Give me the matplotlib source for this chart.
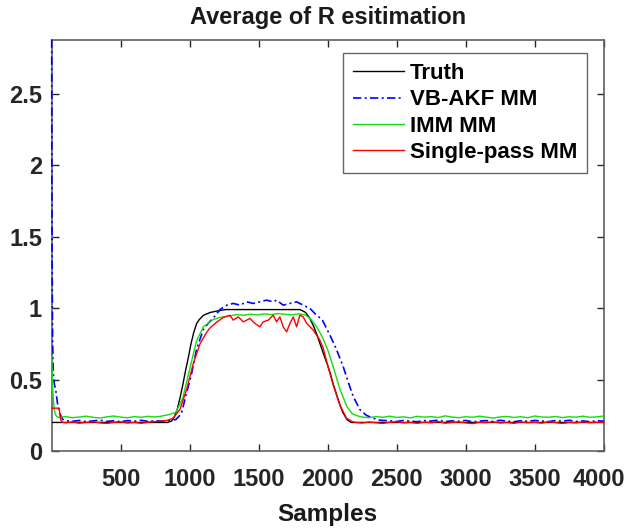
import matplotlib
matplotlib.use('Agg')
from matplotlib import pyplot as plt
from matplotlib.transforms import ScaledTranslation

plt.rcParams['font.family'] = ['Liberation Sans', 'DejaVu Sans']
plt.rcParams['font.weight'] = 'bold'

# ---- data ----
# Truth
truth_x = [1, 840, 870, 890, 910, 930, 950, 970, 990, 1010, 1030, 1050, 1070, 1100, 1150, 1200, 1260,
           1800, 1840, 1870, 1900, 1920, 1945, 1970, 2000, 2020, 2040, 2060, 2090, 2110, 2140, 2170, 4000]
truth_y = [0.2, 0.2, 0.21, 0.24, 0.29, 0.37, 0.46, 0.56, 0.65, 0.75, 0.83, 0.89, 0.92, 0.95, 0.97, 0.98, 0.99,
           0.99, 0.97, 0.93, 0.87, 0.82, 0.75, 0.68, 0.6, 0.54, 0.47, 0.41, 0.32, 0.27, 0.22, 0.2, 0.2]

# VB-AKF MM
vb_x = ([1, 2, 4, 6, 8, 12, 20, 31, 45, 60, 82, 110]
        + list(range(150, 851, 50))
        + [900, 940, 966, 990, 1014, 1050, 1099, 1140, 1171, 1220, 1268]
        + [1316, 1365, 1413, 1461, 1509, 1557, 1606, 1630, 1678, 1727, 1775, 1823, 1872]
        + [1920, 1960, 2017, 2060, 2113, 2150, 2186, 2234, 2280, 2329, 2380]
        + list(range(2450, 4001, 50)))
vb_y = ([2.88, 2.0, 1.4, 1.0, 0.75, 0.55, 0.47, 0.42, 0.32, 0.26, 0.22, 0.212]
        + [0.208, 0.214, 0.206, 0.211, 0.216, 0.207, 0.212, 0.205, 0.213, 0.209, 0.215, 0.207, 0.212, 0.21, 0.214]
        + [0.22, 0.26, 0.36, 0.45, 0.54, 0.71, 0.85, 0.9, 0.93, 0.99, 1.02]
        + [1.033, 1.021, 1.044, 1.033, 1.044, 1.056, 1.044, 1.056, 1.021, 1.033, 1.044, 1.021, 0.998]
        + [0.95, 0.92, 0.81, 0.72, 0.59, 0.48, 0.38, 0.29, 0.25, 0.23, 0.215]
        + [0.212, 0.207, 0.214, 0.209, 0.205, 0.213, 0.21, 0.216, 0.206, 0.211, 0.208, 0.214, 0.204, 0.21, 0.213,
           0.207, 0.215, 0.209, 0.205, 0.212, 0.208, 0.214, 0.21, 0.206, 0.213, 0.209, 0.215, 0.207, 0.211,
           0.205, 0.212, 0.209])

# IMM MM
imm_x = ([1, 5, 10, 18, 28, 40]
         + list(range(50, 851, 50))
         + [900, 950, 1000, 1050, 1100, 1170, 1220, 1290]
         + list(range(1340, 1841, 50))
         + [1880, 1920, 1960, 2000, 2040, 2090, 2140, 2180, 2220]
         + list(range(2250, 4001, 50)))
imm_y = ([0.66, 0.52, 0.4, 0.3, 0.255, 0.24]
         + [0.236, 0.241, 0.233, 0.238, 0.244, 0.236, 0.231, 0.239, 0.245, 0.237, 0.233, 0.241, 0.236, 0.243,
            0.238, 0.245, 0.255]
         + [0.27, 0.37, 0.57, 0.77, 0.87, 0.92, 0.935, 0.945]
         + [0.955, 0.95, 0.958, 0.952, 0.96, 0.955, 0.962, 0.957, 0.953, 0.96, 0.952]
         + [0.92, 0.87, 0.8, 0.71, 0.59, 0.43, 0.31, 0.26, 0.245]
         + [0.238, 0.233, 0.241, 0.236, 0.244, 0.235, 0.239, 0.232, 0.243, 0.237, 0.241, 0.234, 0.246, 0.238,
            0.233, 0.24, 0.236, 0.244, 0.237, 0.231, 0.239, 0.242, 0.235, 0.24, 0.233, 0.245, 0.238, 0.236,
            0.242, 0.234, 0.24, 0.237, 0.244, 0.236, 0.239, 0.245])

# Single-pass MM
sp_x = ([1, 55, 65, 80]
        + list(range(100, 801, 50))
        + [840, 880, 930, 978, 1026, 1075, 1123, 1146, 1194, 1244, 1292]
        + [1316, 1352, 1389, 1437, 1473, 1509, 1533, 1570, 1606, 1630, 1654, 1678, 1703, 1727, 1751, 1775,
           1799, 1823, 1848, 1896, 1944, 1968]
        + [2000, 2041, 2089, 2137, 2180]
        + list(range(2200, 4001, 50)))
sp_y = ([0.3, 0.3, 0.22, 0.2]
        + [0.198, 0.203, 0.195, 0.2, 0.205, 0.197, 0.193, 0.201, 0.204, 0.196, 0.2, 0.194, 0.202, 0.206, 0.21]
        + [0.215, 0.23, 0.29, 0.43, 0.61, 0.75, 0.83, 0.86, 0.9, 0.935, 0.95]
        + [0.916, 0.939, 0.904, 0.928, 0.893, 0.869, 0.904, 0.916, 0.951, 0.904, 0.939, 0.869, 0.834, 0.893,
           0.939, 0.869, 0.951, 0.939, 0.893, 0.846, 0.776, 0.72]
        + [0.6, 0.46, 0.32, 0.23, 0.205]
        + [0.2, 0.196, 0.203, 0.198, 0.193, 0.201, 0.205, 0.197, 0.2, 0.194, 0.202, 0.198, 0.206, 0.195, 0.2,
           0.203, 0.197, 0.192, 0.201, 0.199, 0.204, 0.196, 0.2, 0.194, 0.203, 0.198, 0.201, 0.195, 0.205,
           0.199, 0.193, 0.2, 0.197, 0.204, 0.198, 0.201, 0.2])

labels = ['Truth', 'VB-AKF MM', 'IMM MM', 'Single-pass MM']
x_ticks = [500, 1000, 1500, 2000, 2500, 3000, 3500, 4000]
y_ticks = [0, 0.5, 1, 1.5, 2, 2.5]

fig = plt.figure(figsize=(6.29, 5.29), dpi=100)
ax = fig.add_axes([0.0822, 0.1474, 0.8776, 0.7779])

ax.plot(truth_x, truth_y, color='k', lw=1.0, label=labels[0], zorder=3)
ax.plot(vb_x, vb_y, color='#0000ff', lw=1.2, linestyle=(0, (5, 2, 1.2, 2)), label=labels[1], zorder=3,
        clip_on=False)
ax.plot(imm_x, imm_y, color='#11dd11', lw=1.0, label=labels[2], zorder=3, clip_on=False)
ax.plot(sp_x, sp_y, color='#ff0000', lw=1.0, label=labels[3], zorder=3, clip_on=False)

ax.set_xlim(1, 4000)
ax.set_ylim(0, 2.88)
ax.set_xticks(x_ticks)
ax.set_yticks(y_ticks)
ax.set_xticklabels([str(v) for v in x_ticks])
ax.set_yticklabels(['0', '0.5', '1', '1.5', '2', '2.5'])
ax.tick_params(direction='in', length=5, width=1, colors='#262626', labelsize=17,
               top=True, right=True)
ax.tick_params(axis='x', pad=12)
ax.tick_params(axis='y', pad=7)
for s in ax.spines.values():
    s.set_color('#606060')
    s.set_linewidth(1.2)
    s.set_zorder(2.5)

# last x label pulled in a little so it stays inside the figure
last = ax.get_xticklabels()[-1]
last.set_transform(last.get_transform() + ScaledTranslation(-5 / 100, 0, fig.dpi_scale_trans))

ax.set_title('Average of R esitimation', fontsize=17, fontweight='bold', pad=11, color='#1a1a1a')
ax.set_xlabel('Samples', fontsize=17.5, fontweight='bold', color='#1a1a1a', labelpad=9)

leg = ax.legend(loc='upper right', bbox_to_anchor=(0.970, 0.967), borderaxespad=0,
                fontsize=16, frameon=True, fancybox=False, handlelength=2.3,
                handletextpad=0.25, labelspacing=0.24, borderpad=0.45)
leg.get_frame().set_edgecolor('#404040')
leg.get_frame().set_linewidth(1.0)
leg.set_zorder(5)
for t in leg.get_texts():
    t.set_fontweight('bold')

fig.savefig('out.png', dpi=100)
